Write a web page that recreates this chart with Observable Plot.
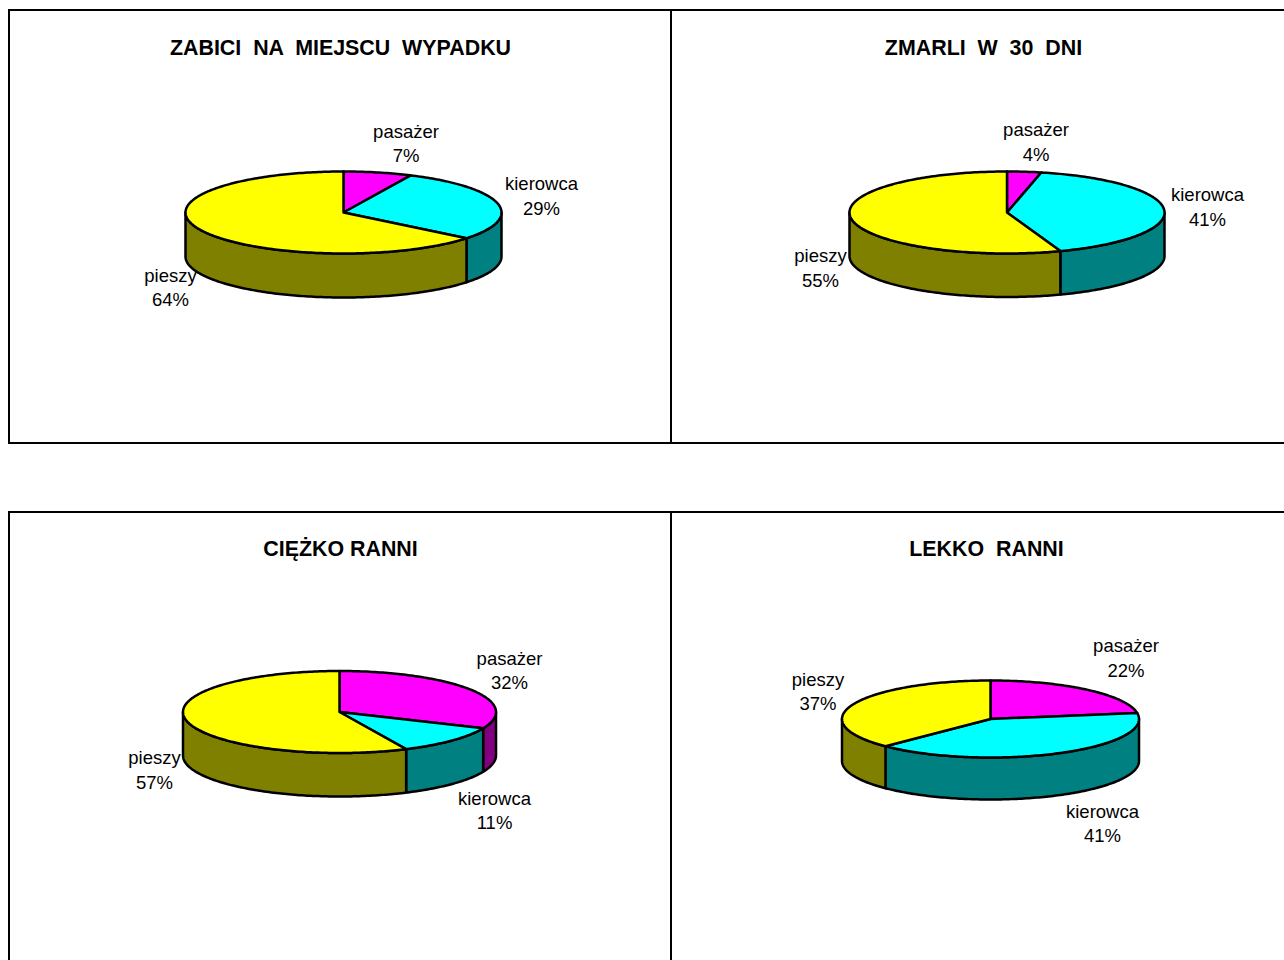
<!DOCTYPE html>
<html><head><meta charset="utf-8">
<style>html,body{margin:0;padding:0;background:#fff;overflow:hidden}svg{display:block}</style>
<script src="https://cdn.jsdelivr.net/npm/d3@7"></script>
<script src="https://cdn.jsdelivr.net/npm/@observablehq/plot@0.6"></script>
</head><body>
<script>
const categories = ["pasażer", "kierowca", "pieszy"];
const titles = ["ZABICI  NA  MIEJSCU  WYPADKU", "ZMARLI  W  30  DNI", "CIĘŻKO RANNI", "LEKKO  RANNI"];
// shares used for the slice sizes (as read from the slice edges)
const zabici = [7, 28.8, 64.2];
const zmarli = [3.5, 41, 55.5];
const ciezko = [31.5, 11.5, 57];
const lekko = [22.5, 40, 37.5];
// the printed percentages
const printedZabici = [7, 29, 64];
const printedZmarli = [4, 41, 55];
const printedCiezko = [32, 11, 57];
const printedLekko = [22, 41, 37];

const series = [zabici, zmarli, ciezko, lekko];
const printed = [printedZabici, printedZmarli, printedCiezko, printedLekko];

// layout
const W = 1284, H = 960;
const pieGeometry = [
  {cx: 343, cy: 212, rx: 158, ry: 41, depth: 44},
  {cx: 1006.5, cy: 212, rx: 157.5, ry: 41, depth: 43.5},
  {cx: 339, cy: 711.5, rx: 156.5, ry: 41, depth: 43.5},
  {cx: 990, cy: 718.5, rx: 148.5, ry: 38.5, depth: 42}
];
const titlePos = [[340, 48], [983, 48], [340, 549], [986, 549]];
const labelPos = [
  [[405.5, 141.5], [541, 194], [170, 285.5]],
  [[1035.5, 140], [1207, 205], [820, 266]],
  [[509, 668.5], [494, 808.5], [154, 768]],
  [[1125.5, 656], [1102, 821.5], [817.5, 689.5]]
];
const panels = [
  {x1: 9, y1: 10, x2: 671, y2: 443},
  {x1: 671, y1: 10, x2: 1300, y2: 443},
  {x1: 9, y1: 512, x2: 671, y2: 980},
  {x1: 671, y1: 512, x2: 1300, y2: 980}
];
const topColors = ["#ff00ff", "#00ffff", "#ffff00"];
const sideColors = ["#800080", "#008080", "#808000"];

function arcAngles(a, b) {
  const out = [];
  for (let t = a; t < b; t += 1) out.push(t);
  out.push(b);
  return out;
}
const rad = d => d * Math.PI / 180;

const sideVerts = [], topVerts = [];
series.forEach((vals, p) => {
  const g = pieGeometry[p];
  const total = d3.sum(vals);
  const px = t => g.cx + g.rx * Math.sin(rad(t));
  const py = t => g.cy - g.ry * Math.cos(rad(t));
  let acc = 0;
  vals.forEach((v, i) => {
    const a = acc / total * 360, b = (acc + v) / total * 360;
    acc += v;
    const part = categories[i];
    const id = `${p}-${i}`;
    // top face
    topVerts.push({id, part: part + " top", x: g.cx, y: g.cy});
    for (const t of arcAngles(a, b)) topVerts.push({id, part: part + " top", x: px(t), y: py(t)});
    // visible rim (front half only)
    const s = Math.max(a, 90), e = Math.min(b, 270);
    if (s < e) {
      const ts = arcAngles(s, e);
      for (const t of ts) sideVerts.push({id, part: part + " side", x: px(t), y: py(t)});
      for (const t of ts.slice().reverse()) sideVerts.push({id, part: part + " side", x: px(t), y: py(t) + g.depth});
    }
  });
});

const titleRows = titles.map((t, i) => ({t, x: titlePos[i][0], y: titlePos[i][1]}));
const labelRows = printed.flatMap((vals, p) => vals.map((v, i) => ({
  t: `${categories[i]}\n${v}%`, x: labelPos[p][i][0], y: labelPos[p][i][1]
})));

const lineOpts = {x: "x", y: "y", z: "id", fill: "part", stroke: "#000", strokeWidth: 2.5,
  curve: "linear-closed", strokeLinejoin: "round"};

const chart = Plot.plot({
  width: W, height: H, margin: 0, style: {background: "#fff"},
  x: {domain: [0, W], range: [0, W], axis: null},
  y: {domain: [0, H], range: [0, H], axis: null},
  color: {
    domain: categories.map(c => c + " top").concat(categories.map(c => c + " side")),
    range: topColors.concat(sideColors)
  },
  marks: [
    Plot.rect(panels, {x1: "x1", y1: "y1", x2: "x2", y2: "y2", fill: "none", stroke: "#000", strokeWidth: 2}),
    Plot.line(sideVerts, lineOpts),
    Plot.line(topVerts, lineOpts),
    Plot.text(titleRows, {x: "x", y: "y", text: "t", fontFamily: "Liberation Sans", fontWeight: "bold", fontSize: 21.4, fill: "#000"}),
    Plot.text(labelRows, {x: "x", y: "y", text: "t", fontFamily: "Liberation Sans", fontSize: 18.5, lineHeight: 1.33, fill: "#000"})
  ]
});
document.body.appendChild(chart);
</script>
</body></html>
